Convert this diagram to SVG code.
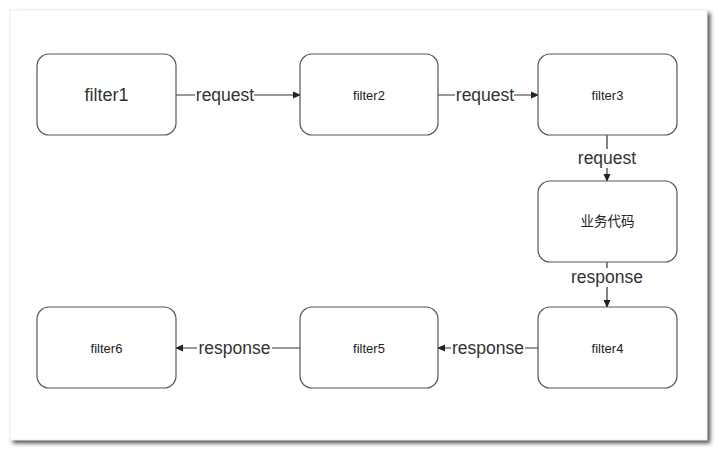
<svg xmlns="http://www.w3.org/2000/svg" width="718" height="452" viewBox="0 0 718 452">
<defs>
<marker id="arr" markerWidth="8" markerHeight="8" refX="7" refY="4" orient="auto" markerUnits="userSpaceOnUse">
<path d="M0,0.5 L8,4 L0,7.5 Z" fill="#222"/>
</marker>
<filter id="sh" x="-5%" y="-5%" width="110%" height="110%">
<feGaussianBlur in="SourceAlpha" stdDeviation="2"/>
<feOffset dx="3" dy="3"/>
<feComponentTransfer><feFuncA type="linear" slope="0.7"/></feComponentTransfer>
<feMerge><feMergeNode/><feMergeNode in="SourceGraphic"/></feMerge>
</filter>
</defs>
<style>
.box{fill:#fff;stroke:#555;stroke-width:1.2}
.t{font-family:"Liberation Sans","DejaVu Sans",sans-serif;font-size:13px;fill:#222;text-anchor:middle;dominant-baseline:central}
.big{font-size:18px;fill:#333}
.lbl{font-family:"Liberation Sans","DejaVu Sans",sans-serif;font-size:17.5px;fill:#333;text-anchor:middle;dominant-baseline:central}
.cjk{font-family:"Liberation Sans","Noto Sans CJK SC",sans-serif;font-size:13.5px}
.ln{stroke:#333;stroke-width:1.2;fill:none}
.lb{fill:#fff}
</style>
<rect x="0" y="0" width="718" height="452" fill="#fff"/>
<rect x="10" y="10" width="697" height="430" fill="#fff" stroke="#ddd" stroke-width="0.5" filter="url(#sh)"/>
<g id="connectors">
<line class="ln" x1="176" y1="95" x2="300" y2="95" marker-end="url(#arr)"/>
<rect class="lb" x="195" y="85" width="59" height="20"/>
<text class="lbl" x="225" y="95">request</text>
<line class="ln" x1="438" y1="95" x2="538" y2="95" marker-end="url(#arr)"/>
<rect class="lb" x="455" y="85" width="59" height="20"/>
<text class="lbl" x="485" y="95">request</text>
<line class="ln" x1="607" y1="135" x2="607" y2="181" marker-end="url(#arr)"/>
<rect class="lb" x="576" y="149" width="62" height="19"/>
<text class="lbl" x="607" y="158">request</text>
<line class="ln" x1="607" y1="262" x2="607" y2="307" marker-end="url(#arr)"/>
<rect class="lb" x="568" y="268" width="78" height="19"/>
<text class="lbl" x="607" y="277">response</text>
<line class="ln" x1="538" y1="348" x2="438" y2="348" marker-end="url(#arr)"/>
<rect class="lb" x="451" y="338" width="74" height="20"/>
<text class="lbl" x="488" y="348">response</text>
<line class="ln" x1="300" y1="348" x2="176" y2="348" marker-end="url(#arr)"/>
<rect class="lb" x="197" y="338" width="75" height="20"/>
<text class="lbl" x="234.5" y="348">response</text>
</g>
<g id="filter1"><rect class="box" x="37" y="54" width="139" height="81" rx="12"/><text class="t big" x="106.5" y="95">filter1</text></g>
<g id="filter2"><rect class="box" x="300" y="54" width="138" height="81" rx="12"/><text class="t" x="369" y="95">filter2</text></g>
<g id="filter3"><rect class="box" x="538" y="54" width="139" height="81" rx="12"/><text class="t" x="607.5" y="95">filter3</text></g>
<g id="biz"><rect class="box" x="538" y="181" width="139" height="81" rx="12"/><text class="t cjk" x="607.5" y="221">业务代码</text></g>
<g id="filter4"><rect class="box" x="538" y="307" width="139" height="81" rx="12"/><text class="t" x="607.5" y="348">filter4</text></g>
<g id="filter5"><rect class="box" x="300" y="307" width="138" height="81" rx="12"/><text class="t" x="369" y="348">filter5</text></g>
<g id="filter6"><rect class="box" x="37" y="307" width="139" height="81" rx="12"/><text class="t" x="106.5" y="348">filter6</text></g>
</svg>
